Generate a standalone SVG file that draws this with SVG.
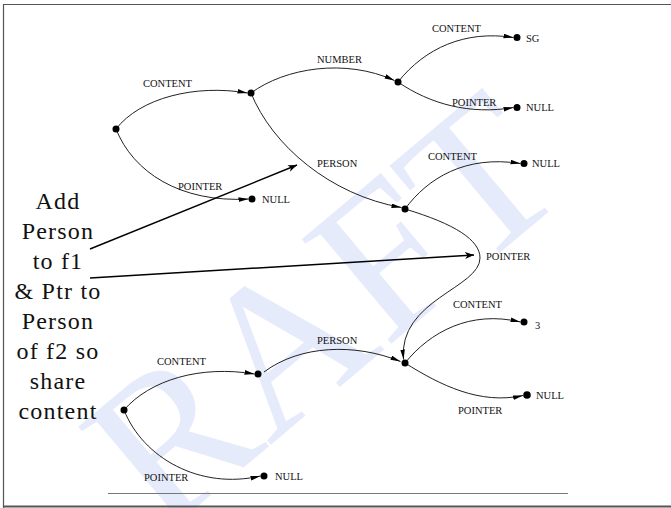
<svg xmlns="http://www.w3.org/2000/svg" width="671" height="508" viewBox="0 0 671 508">
<style>
.edge{fill:none;stroke:#222;stroke-width:1;}
.ann{fill:none;stroke:#000;stroke-width:1.4;}
.dot{fill:#000;}
.lbl{font-family:"Liberation Serif","Times New Roman",serif;font-size:10.5px;fill:#111;}
.big{font-family:"Liberation Serif","Times New Roman",serif;font-size:24px;letter-spacing:1.2px;fill:#111;text-anchor:middle;}
.wm{font-family:"Liberation Serif","Times New Roman",serif;font-size:210px;fill:#e6ebfb;}
</style>
<defs>
<marker id="ah" markerUnits="userSpaceOnUse" markerWidth="11" markerHeight="6" refX="10" refY="2.3" orient="auto">
<path d="M0,0 L10,2.3 L0,4.6 z" fill="#000"/>
</marker>
<marker id="ah2" markerUnits="userSpaceOnUse" markerWidth="10" markerHeight="8" refX="9" refY="3.5" orient="auto">
<path d="M0,0 L9,3.5 L0,7 L2.5,3.5 z" fill="#000"/>
</marker>
</defs>
<rect x="0" y="0" width="671" height="508" fill="#fff"/>
<text class="wm" transform="translate(162,536) rotate(-40)">RAFT</text>
<g id="frame">
<path d="M3.5,508 L3.5,4.5 L671,4.5" fill="none" stroke="#555" stroke-width="1.2"/>
<line x1="3" y1="506.5" x2="671" y2="506.5" stroke="#555" stroke-width="2"/>
<line x1="108" y1="493.5" x2="568" y2="493.5" stroke="#777" stroke-width="1"/>
</g>
<g id="connectors">
<path class="edge" marker-end="url(#ah)" d="M116,129 C140,98 195,84 247.5,93"/>
<path class="edge" marker-end="url(#ah)" d="M116,129 C133,172 180,203 248.5,199"/>
<path class="edge" marker-end="url(#ah)" d="M251,93 C285,68 345,58 394.5,80.5"/>
<path class="edge" marker-end="url(#ah)" d="M251,93 C272,145 330,195 401.5,207.5"/>
<path class="edge" marker-end="url(#ah)" d="M398,82 C425,48 465,30 513.5,37.5"/>
<path class="edge" marker-end="url(#ah)" d="M398,82 C430,104 470,115 513.5,107.5"/>
<path class="edge" marker-end="url(#ah)" d="M405,209 C428,178 465,155 520.5,163.5"/>
<path class="edge" marker-end="url(#ah)" d="M405,209 C455,224 480,240 480,258 C480,288 398,300 403.5,359.5"/>
<path class="edge" marker-end="url(#ah)" d="M405,363 C430,332 470,310 520.5,322"/>
<path class="edge" marker-end="url(#ah)" d="M405,363 C440,385 480,405 523,395.5"/>
<path class="edge" marker-end="url(#ah)" d="M124,410 C150,380 200,365 254.5,374"/>
<path class="edge" marker-end="url(#ah)" d="M124,410 C143,458 200,490 260.5,476"/>
<path class="edge" marker-end="url(#ah)" d="M264,372 C300,345 355,343 400.5,361.5"/>
<path class="ann" marker-end="url(#ah2)" d="M90,249 L297,165"/>
<path class="ann" marker-end="url(#ah2)" d="M90,278 L474,255"/>
</g>
<g id="edge-labels">
<text class="lbl" x="143" y="87">CONTENT</text>
<text class="lbl" x="178" y="190">POINTER</text>
<text class="lbl" x="317" y="63">NUMBER</text>
<text class="lbl" x="317" y="167">PERSON</text>
<text class="lbl" x="432" y="32">CONTENT</text>
<text class="lbl" x="452" y="106">POINTER</text>
<text class="lbl" x="428" y="160">CONTENT</text>
<text class="lbl" x="486" y="260">POINTER</text>
<text class="lbl" x="453" y="308">CONTENT</text>
<text class="lbl" x="458" y="414">POINTER</text>
<text class="lbl" x="157" y="365">CONTENT</text>
<text class="lbl" x="317" y="344">PERSON</text>
<text class="lbl" x="144" y="481">POINTER</text>
</g>
<g id="n-root1"><circle class="dot" cx="116" cy="129" r="3.5"/></g>
<g id="n-b"><circle class="dot" cx="251" cy="93" r="3.5"/></g>
<g id="n-null1"><circle class="dot" cx="252" cy="199" r="3.5"/><text class="lbl" x="262" y="203">NULL</text></g>
<g id="n-c"><circle class="dot" cx="398" cy="82" r="3.5"/></g>
<g id="n-sg"><circle class="dot" cx="517" cy="37.5" r="3.5"/><text class="lbl" x="526" y="41.5">SG</text></g>
<g id="n-null2"><circle class="dot" cx="517" cy="107.5" r="3.5"/><text class="lbl" x="526" y="111">NULL</text></g>
<g id="n-d"><circle class="dot" cx="405" cy="209" r="3.5"/></g>
<g id="n-null3"><circle class="dot" cx="524" cy="163.5" r="3.5"/><text class="lbl" x="532" y="167">NULL</text></g>
<g id="n-e"><circle class="dot" cx="405" cy="363" r="3.5"/></g>
<g id="n-3"><circle class="dot" cx="524" cy="322" r="3.5"/><text class="lbl" x="535" y="328.5">3</text></g>
<g id="n-null4"><circle class="dot" cx="527" cy="395" r="3.8"/><text class="lbl" x="536" y="399">NULL</text></g>
<g id="n-root2"><circle class="dot" cx="124" cy="410" r="3.5"/></g>
<g id="n-g"><circle class="dot" cx="258" cy="374" r="3.5"/></g>
<g id="n-null5"><circle class="dot" cx="264" cy="476" r="3.5"/><text class="lbl" x="275" y="480">NULL</text></g>
<g id="note">
<text class="big" x="58" y="208.5">Add</text>
<text class="big" x="58" y="238.5">Person</text>
<text class="big" x="58" y="268.5">to f1</text>
<text class="big" x="58" y="298.5">&amp; Ptr to</text>
<text class="big" x="58" y="328.5">Person</text>
<text class="big" x="58" y="358.5">of f2 so</text>
<text class="big" x="58" y="388.5">share</text>
<text class="big" x="58" y="418.5">content</text>
</g>
</svg>
